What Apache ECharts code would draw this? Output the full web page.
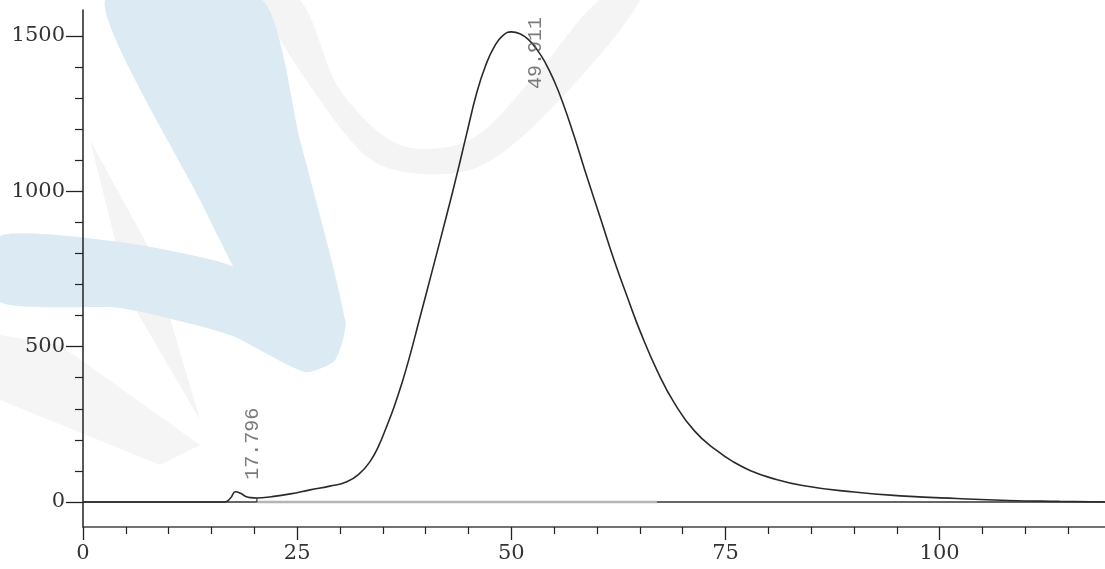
<!DOCTYPE html>
<html>
<head>
<meta charset="utf-8">
<script src="https://cdn.jsdelivr.net/npm/echarts@6/dist/echarts.min.js"></script>
<style>
html,body{margin:0;padding:0;background:#fff;}
#chart{width:1105px;height:569px;}
</style>
</head>
<body>
<div id="chart"></div>
<script>
// ---- data (retention time in min, signal) ----
var times  = [0, 16.5, 17.2, 17.8, 18.4, 19.0, 19.6, 20.3, 22.0, 24.2, 26.5, 28.8, 30.8, 32.3, 33.5, 34.5, 35.4, 36.3, 37.2, 38.2, 39.2, 40.8, 42.3, 43.7, 44.7, 46.0, 47.0, 48.0, 49.0, 50.0, 51.0, 52.0, 53.0, 54.0, 55.0, 56.0, 57.3, 58.9, 60.5, 62.0, 63.6, 65.1, 67.1, 69.0, 71.4, 74.0, 76.0, 78.0, 80.0, 84.0, 90.0, 96.0, 102.0, 108.0, 114.0, 119.3];
var signal = [0, 0, 12, 33, 28, 18, 14, 13, 17, 26, 39, 51, 65, 92, 130, 180, 240, 305, 380, 475, 580, 748, 907, 1060, 1175, 1321, 1405, 1465, 1501, 1513, 1507, 1488, 1456, 1412, 1355, 1286, 1180, 1040, 905, 778, 655, 545, 418, 320, 228, 165, 128, 100, 80, 53, 32, 19, 11, 5, 2, 0];
var peakTimes  = [17.796, 49.911];
var peakValues = [33, 1513];
var peakLabels = ["17.796", "49.911"];
var baselineTimes = [0, 119.3];
var integrationTimes = [20.3, 67.0];
var dropTime = 20.3;
var dropValue = 13;
var xMajorTicks = [0, 25, 50, 75, 100];
var xMinorTicks = [5, 10, 15, 20, 30, 35, 40, 45, 55, 60, 65, 70, 80, 85, 90, 95, 105, 110, 115];
var yMajorTicks = [0, 500, 1000, 1500];
var yMinorTicks = [100, 200, 300, 400, 600, 700, 800, 900, 1100, 1200, 1300, 1400];

var xMin = 0, xMax = 119.3, yMin = -80.5, yMax = 1583.5;

var curve = times.map(function (t, i) { return [t, signal[i]]; });
var baseline = baselineTimes.map(function (t) { return [t, 0]; });
var integ = integrationTimes.map(function (t) { return [t, 0]; });
var drop = [[dropTime, 0], [dropTime, dropValue]];
var peaks = peakTimes.map(function (t, i) { return { value: [t, peakValues[i]], name: peakLabels[i] }; });

// screen-space offsets of the rotated peak labels (px): [right, down]
var labelShift = [[17, -12], [25, 57]];

var chart = echarts.init(document.getElementById('chart'), null, { renderer: 'canvas' });
var plain = function (v) { return String(v); };
var axisFont = { fontFamily: 'DejaVu Serif', fontSize: 21, color: '#333', formatter: plain };

chart.setOption({
  animation: false,
  backgroundColor: '#fff',
  graphic: [
    { type: 'polygon', z: -10, silent: true, shape: { smooth: 0.2, points: [[105,0],[262,0],[300,140],[345,320],[335,360],[305,372],[275,345],[200,200]] }, style: { fill: '#dcebf3' } },
    { type: 'polygon', z: -10, silent: true, shape: { smooth: 0.2, points: [[0,236],[120,242],[220,262],[300,295],[345,320],[335,360],[305,372],[230,335],[120,308],[0,302]] }, style: { fill: '#dcebf3' } },
    { type: 'polygon', z: -11, silent: true, shape: { smooth: 0.3, points: [[262,0],[300,0],[340,90],[400,145],[470,140],[540,70],[600,0],[640,0],[540,120],[470,170],[380,165],[320,100]] }, style: { fill: '#f4f4f4' } },
    { type: 'polygon', z: -11, silent: true, shape: { points: [[0,335],[60,345],[200,445],[160,465],[0,400]] }, style: { fill: '#f5f5f5' } },
    { type: 'polygon', z: -11, silent: true, shape: { points: [[90,140],[150,250],[200,420],[130,300]] }, style: { fill: '#f4f4f4' } }
  ],
  grid: { left: 83, right: 0, top: 10, bottom: 42, containLabel: false },
  xAxis: [
    {
      type: 'value', min: xMin, max: xMax, position: 'bottom',
      axisLine: { show: true, onZero: false, lineStyle: { color: '#444', width: 1.5 } },
      axisTick: { show: true, inside: false, length: 13, customValues: xMajorTicks, lineStyle: { color: '#222', width: 1.3 } },
      axisLabel: Object.assign({ customValues: xMajorTicks, margin: 16 }, axisFont),
      splitLine: { show: false }
    },
    {
      type: 'value', min: xMin, max: xMax, position: 'bottom',
      axisLine: { show: false, onZero: false },
      axisTick: { show: true, inside: false, length: 7, customValues: xMinorTicks, lineStyle: { color: '#222', width: 1.2 } },
      axisLabel: { show: false },
      splitLine: { show: false }
    }
  ],
  yAxis: [
    {
      type: 'value', min: yMin, max: yMax, position: 'left',
      axisLine: { show: true, onZero: false, lineStyle: { color: '#222', width: 1.5 } },
      axisTick: { show: true, length: 17, customValues: yMajorTicks, lineStyle: { color: '#222', width: 1.3 } },
      axisLabel: Object.assign({ customValues: yMajorTicks, margin: 18 }, axisFont),
      splitLine: { show: false }
    },
    {
      type: 'value', min: yMin, max: yMax, position: 'left',
      axisLine: { show: false, onZero: false },
      axisTick: { show: true, length: 8, customValues: yMinorTicks, lineStyle: { color: '#222', width: 1.2 } },
      axisLabel: { show: false },
      splitLine: { show: false }
    }
  ],
  series: [
    {
      name: 'baseline', type: 'line', data: baseline, symbol: 'none',
      lineStyle: { color: '#333', width: 1.5 }, z: 2
    },
    {
      name: 'integration', type: 'line', data: integ, symbol: 'none',
      lineStyle: { color: '#b5b5b5', width: 2.5 }, z: 3
    },
    {
      name: 'drop', type: 'line', data: drop, symbol: 'none',
      lineStyle: { color: '#333', width: 1.2 }, z: 4
    },
    {
      name: 'signal', type: 'line', data: curve, symbol: 'none',
      smooth: 0.5,
      lineStyle: { color: '#2a2a2a', width: 1.6 }, z: 5
    },
    {
      name: 'peaks', type: 'scatter', data: peaks, symbolSize: 0, z: 6,
      label: {
        show: true, formatter: function (p) { return p.name; },
        position: 'inside', rotate: 90, align: 'left', verticalAlign: 'middle',
        fontFamily: 'Liberation Mono', fontSize: 20, color: '#5a5a5a'
      },
      labelLayout: function (params) {
        var s = labelShift[params.dataIndex];
        // layout offsets are applied in the label's rotated frame
        return { dx: -s[1], dy: s[0] };
      }
    }
  ]
});
</script>
</body>
</html>
